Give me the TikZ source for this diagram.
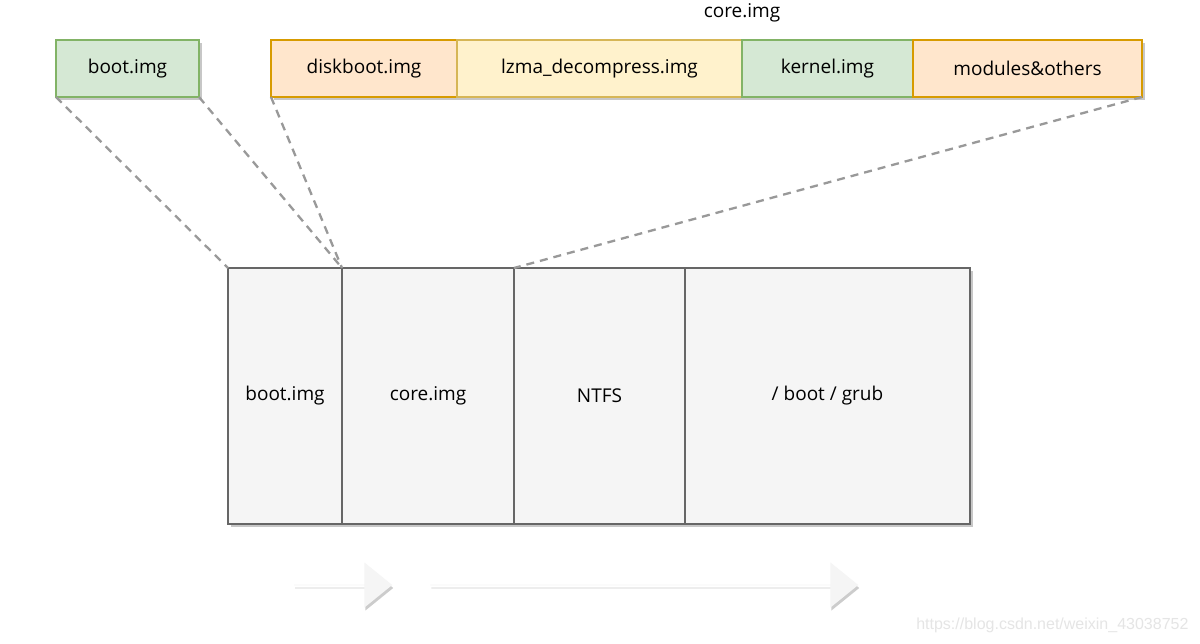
\documentclass[tikz,border=0pt]{standalone}
\usepackage{fontspec}
\setmainfont{Open Sans}
\newfontfamily\markfont{Liberation Sans}
\usetikzlibrary{positioning,shadows,shapes.arrows}

\definecolor{grnfill}{HTML}{D5E8D4}
\definecolor{grnline}{HTML}{82B366}
\definecolor{orgfill}{HTML}{FFE6CC}
\definecolor{orgline}{HTML}{D79B00}
\definecolor{ylwfill}{HTML}{FFF2CC}
\definecolor{ylwline}{HTML}{D6B656}
\definecolor{diskfill}{HTML}{F5F5F5}
\definecolor{diskline}{HTML}{666666}
\definecolor{guidegray}{HTML}{999999}

\tikzset{
  softshadow/.style={drop shadow={shadow xshift=3pt,shadow yshift=-3pt,fill=black,opacity=0.22}},
  imgbox/.style={draw,line width=1.4pt,inner sep=0pt,outer sep=0pt,
    minimum height=57pt,font=\fontsize{19}{21}\selectfont,softshadow},
  greenbox/.style={imgbox,fill=grnfill,draw=grnline},
  orangebox/.style={imgbox,fill=orgfill,draw=orgline},
  yellowbox/.style={imgbox,fill=ylwfill,draw=ylwline},
  part/.style={draw=diskline,fill=diskfill,line width=1.2pt,inner sep=0pt,outer sep=0pt,
    minimum height=256pt,font=\fontsize{19}{21}\selectfont,softshadow},
  guide/.style={draw=guidegray,line width=2.3pt,dash pattern=on 8pt off 6pt},
  flow/.style={single arrow,fill=diskfill,draw=none,minimum width=45pt,
    single arrow head extend=14pt,single arrow tip angle=78,inner sep=0pt,
    drop shadow={shadow xshift=1pt,shadow yshift=-3pt,fill=black,opacity=0.2}}
}

\begin{document}
\begin{tikzpicture}[x=1pt,y=-1pt]
\useasboundingbox[fill=white] (0,0) rectangle (1200,643);

% top row
\node[greenbox,minimum width=143pt,anchor=north west] (bootTop) at (56,40) {boot.img};
\node[orangebox,minimum width=186pt,anchor=north west] (diskboot) at (271,40) {diskboot.img};
\node[yellowbox,minimum width=285pt,right=0pt of diskboot] (lzma) {lzma\_decompress.img};
\node[greenbox,minimum width=171pt,right=0pt of lzma] (kernel) {kernel.img};
\node[orangebox,minimum width=229pt,right=0pt of kernel] (modules) {modules\&others};
\node[font=\fontsize{19}{21}\selectfont] (coreLabel) at (742,13) {core.img};

% disk layout
\node[part,minimum width=114pt,anchor=north west] (partBoot) at (228,268) {boot.img};
\node[part,minimum width=172pt,right=0pt of partBoot] (partCore) {core.img};
\node[part,minimum width=171pt,right=0pt of partCore] (partNtfs) {NTFS};
\node[part,minimum width=285pt,right=0pt of partNtfs] (partGrub) {/ boot / grub};

% guides
\draw[guide] (bootTop.south west) -- (partBoot.north west);
\draw[guide] (bootTop.south east) -- (partCore.north west);
\draw[guide] (diskboot.south west) -- (partCore.north west);
\draw[guide] (modules.south east) -- (partNtfs.north west);

% load order
\node[flow,minimum height=98pt,anchor=west] (arrowA) at (294,585) {};
\node[flow,minimum height=428pt,anchor=west] (arrowB) at (430,585) {};

\node[font=\markfont\fontsize{16}{18}\selectfont,text=black!10,anchor=east] (mark) at (1192,625) {https://blog.csdn.net/weixin\_43038752};
\end{tikzpicture}
\end{document}
